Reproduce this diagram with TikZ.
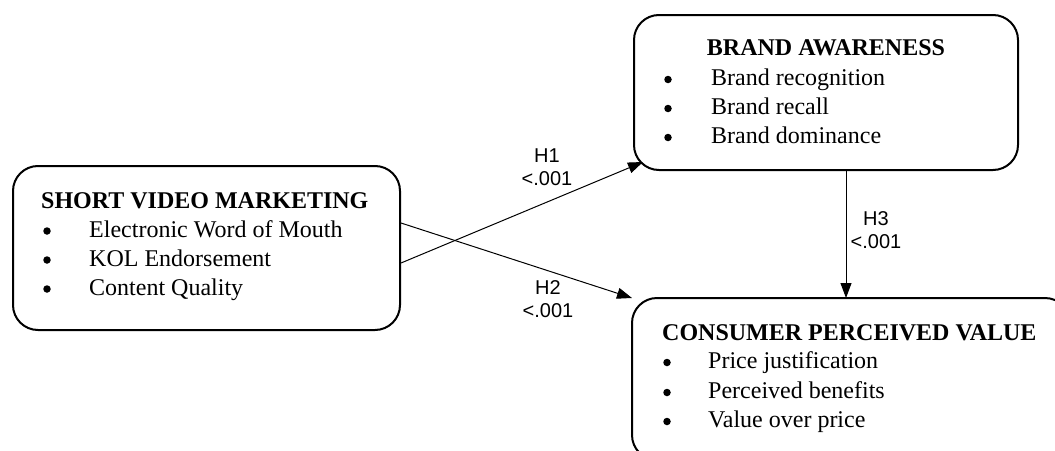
\documentclass[tikz,border=0pt]{standalone}
\usepackage{fontspec}
\setmainfont{Liberation Serif}
\newfontfamily\labelfont{Liberation Sans}
\usetikzlibrary{arrows.meta,calc}
\begin{document}
\begin{tikzpicture}[x=1pt,y=-1pt,
  box/.style={draw, line width=2pt, rounded corners=25pt, inner sep=0pt, outer sep=0pt},
  txt/.style={anchor=base west, inner sep=0pt, font=\fontsize{24}{29}\selectfont},
  ttl/.style={anchor=base west, inner sep=0pt, font=\fontsize{24}{29}\selectfont\bfseries},
  bul/.style={circle, fill, inner sep=0pt, minimum size=7.5pt},
  arr/.style={line width=1pt, -{Triangle[length=15pt,width=11pt]}},
  lab/.style={align=center, inner sep=0pt, font=\labelfont\fontsize{20}{23}\selectfont}]
\useasboundingbox (0,0) rectangle (1055,450);
\clip (0,0) rectangle (1055,450);

% boxes
\node[box, minimum width=387pt, minimum height=164pt] (svm) at (206.5,248) {};
\node[box, minimum width=384pt, minimum height=155pt] (ba) at (826,92.5) {};
\node[box, minimum width=438pt, minimum height=162pt] (cpv) at (851,379) {};

% short video marketing
\node[ttl] (svmT) at (41,208) {SHORT VIDEO MARKETING};
\node[bul] (svmB1) at (47,231) {};
\node[bul] (svmB2) at (47,260) {};
\node[bul] (svmB3) at (47,289) {};
\node[txt] (svm1) at (89,237) {Electronic Word of Mouth};
\node[txt] (svm2) at (89,266) {KOL Endorsement};
\node[txt] (svm3) at (89,295) {Content Quality};

% brand awareness
\node[ttl, anchor=base] (baT) at (826,55) {BRAND AWARENESS};
\node[bul] (baB1) at (668,79.5) {};
\node[bul] (baB2) at (668,108.5) {};
\node[bul] (baB3) at (668,137.5) {};
\node[txt] (ba1) at (711,85) {Brand recognition};
\node[txt] (ba2) at (711,114) {Brand recall};
\node[txt] (ba3) at (711,143) {Brand dominance};

% consumer perceived value
\node[ttl] (cpvT) at (662,340) {CONSUMER PERCEIVED VALUE};
\node[bul] (cpvB1) at (667,362.5) {};
\node[bul] (cpvB2) at (667,392.5) {};
\node[bul] (cpvB3) at (667,421.5) {};
\node[txt] (cpv1) at (708,368) {Price justification};
\node[txt] (cpv2) at (708,398) {Perceived benefits};
\node[txt] (cpv3) at (708,427) {Value over price};

% connectors
\draw[arr] ($(svm.east)+(1,15)$) -- ($(ba.south west)+(9,-8)$);
\draw[arr] ($(svm.east)+(1,-25)$) -- (cpv.north west);
\coordinate (h3s) at ($(ba.south)+(20,0)$);
\draw[arr] (h3s) -- (h3s |- cpv.north);

% labels
\node[lab] (l1) at (547,167) {H1\\<.001};
\node[lab] (l2) at (548,299) {H2\\<.001};
\node[lab] (l3) at (876,230) {H3\\<.001};
\end{tikzpicture}
\end{document}
